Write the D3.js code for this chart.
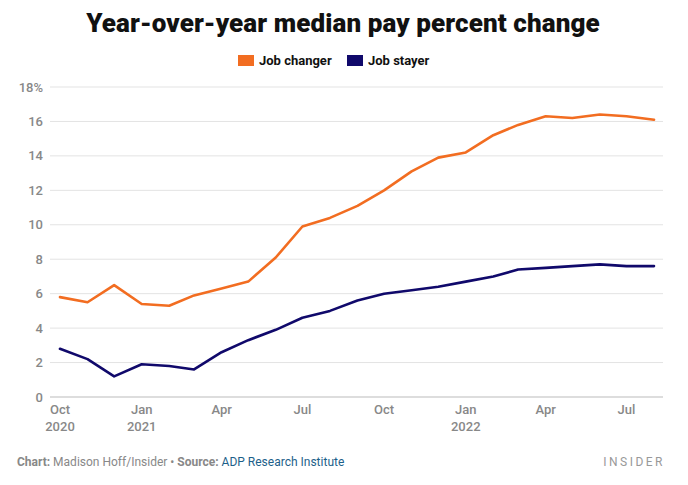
<!DOCTYPE html>
<html>
<head>
<meta charset="utf-8">
<script src="https://cdn.jsdelivr.net/npm/d3@7"></script>
<style>
  body { margin: 0; background: #fff; font-family: Roboto, "Noto Sans", sans-serif; }
</style>
</head>
<body>
<div id="chart"></div>
<script>
// monthly data, Oct 2020 - Aug 2022
let months = ["2020-10","2020-11","2020-12","2021-01","2021-02","2021-03","2021-04","2021-05","2021-06","2021-07","2021-08","2021-09",
              "2021-10","2021-11","2021-12","2022-01","2022-02","2022-03","2022-04","2022-05","2022-06","2022-07","2022-08"]
let jobChanger = [5.8, 5.5, 6.5, 5.4, 5.3, 5.9, 6.3, 6.7, 8.1, 9.9, 10.4, 11.1,
                  12.0, 13.1, 13.9, 14.2, 15.2, 15.8, 16.3, 16.2, 16.4, 16.3, 16.1]
let jobStayer = [2.8, 2.2, 1.2, 1.9, 1.8, 1.6, 2.6, 3.3, 3.9, 4.6, 5.0, 5.6,
                 6.0, 6.2, 6.4, 6.7, 7.0, 7.4, 7.5, 7.6, 7.7, 7.6, 7.6]
let yTicks = [0, 2, 4, 6, 8, 10, 12, 14, 16, 18]
let xTicks = ["2020-10","2021-01","2021-04","2021-07","2021-10","2022-01","2022-04","2022-07"]
let seriesNames = ["Job changer", "Job stayer"]
let colors = ["#f26d21", "#10096b"]

let width = 688, height = 485
let parse = d3.timeParse("%Y-%m")

let svg = d3.select("#chart").append("svg")
    .attr("width", width)
    .attr("height", height)

let x = d3.scaleTime()
    .domain([parse(months[0]), parse(months[months.length-1])])
    .range([60, 654])
let y = d3.scaleLinear()
    .domain([0, 18])
    .range([397, 87])

// title
svg.append("text")
    .attr("x", 343).attr("y", 32)
    .attr("text-anchor", "middle")
    .style("font-size", "26px")
    .style("font-weight", "900")
    .style("letter-spacing", "0.1px")
    .style("fill", "#111")
    .text("Year-over-year median pay percent change")

// legend
let legendPos = [238, 347]
let legend = svg.selectAll(".legend")
    .data(seriesNames)
    .enter().append("g")
    .attr("transform", (d,i) => "translate(" + legendPos[i] + ",55)")
legend.append("rect")
    .attr("width", 16).attr("height", 11)
    .attr("fill", (d,i) => colors[i])
legend.append("text")
    .attr("x", 21).attr("y", 10)
    .style("font-size", "13px")
    .style("font-weight", "700")
    .style("fill", "#111")
    .text(d => d)

// grid + y labels
svg.selectAll(".grid")
    .data(yTicks)
    .enter().append("line")
    .attr("x1", 50).attr("x2", 663)
    .attr("y1", d => y(d)).attr("y2", d => y(d))
    .attr("stroke", d => d == 0 ? "#bbb" : "#e3e3e3")
    .attr("stroke-width", 1)

svg.selectAll(".ylab")
    .data(yTicks)
    .enter().append("text")
    .attr("x", 43).attr("y", d => y(d) + 4.5)
    .attr("text-anchor", "end")
    .style("font-size", "13px")
    .style("font-weight", "500")
    .style("fill", "#888")
    .text(d => d == 18 ? "18%" : d)

// x labels
let xl = svg.selectAll(".xlab")
    .data(xTicks)
    .enter().append("g")
    .attr("transform", d => "translate(" + x(parse(d)) + ",0)")
xl.append("text")
    .attr("y", 414)
    .attr("text-anchor", "middle")
    .style("font-size", "13px")
    .style("font-weight", "500")
    .style("fill", "#888")
    .text(d => d3.timeFormat("%b")(parse(d)))
xl.filter(d => d.endsWith("-10") && d.startsWith("2020") || d.endsWith("-01"))
    .append("text")
    .attr("y", 431)
    .attr("text-anchor", "middle")
    .style("font-size", "13px")
    .style("font-weight", "500")
    .style("fill", "#888")
    .text(d => d.slice(0,4))

// lines
let line = d3.line()
    .x((d,i) => x(parse(months[i])))
    .y(d => y(d))
svg.selectAll(".series")
    .data([jobChanger, jobStayer])
    .enter().append("path")
    .attr("d", line)
    .attr("fill", "none")
    .attr("stroke", (d,i) => colors[i])
    .attr("stroke-width", 2.6)
    .attr("stroke-linejoin", "round")
    .attr("stroke-linecap", "round")

// footer
let foot = svg.append("text")
    .attr("x", 17).attr("y", 466)
    .style("font-size", "12px")
    .style("fill", "#888")
foot.append("tspan").style("font-weight", "700").text("Chart: ")
foot.append("tspan").text("Madison Hoff/Insider \u2022 ")
foot.append("tspan").style("font-weight", "700").text("Source: ")
foot.append("tspan").style("fill", "#1d5f8a").text("ADP Research Institute")

svg.append("text")
    .attr("x", 665).attr("y", 466)
    .attr("text-anchor", "end")
    .style("font-size", "12px")
    .style("letter-spacing", "2.5px")
    .style("fill", "#999")
    .text("INSIDER")
</script>
</body>
</html>
